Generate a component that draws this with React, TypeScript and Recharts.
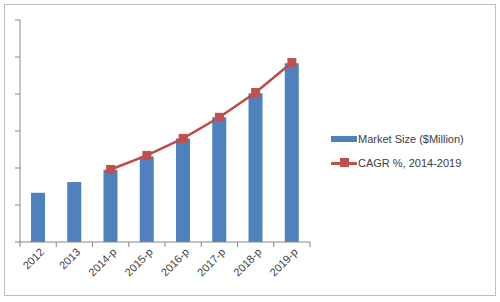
import { ComposedChart, Bar, Line, XAxis, YAxis } from 'recharts';

const years = ['2012', '2013', '2014-p', '2015-p', '2016-p', '2017-p', '2018-p', '2019-p'];
const marketSize = [13.3, 16.2, 19.5, 23.1, 28.0, 33.7, 40.2, 48.3];
const cagr = [null, null, 19.6, 23.4, 28.0, 33.7, 40.4, 48.5];
const yTicks = [0, 10, 20, 30, 40, 50, 60];

const data = years.map((year, i) => ({ year, size: marketSize[i], cagr: cagr[i] }));

const FONT = '"Liberation Sans", Arial, sans-serif';
const BLUE = '#4F81BD';
const RED = '#C0504D';
const AXIS = '#868686';

const SquareDot = (props: any) => {
  const { cx, cy, value } = props;
  if (value == null || cx == null || cy == null) return <g />;
  return <rect x={cx - 4.5} y={cy - 4.5} width={9} height={9} fill={RED} />;
};

// Excel-style tick marks sit between categories, so draw them from the tick itself
const YearTick = (props: any) => {
  const { x, y, payload, width, visibleTicksCount, index } = props;
  const half = width / visibleTicksCount / 2;
  return (
    <g>
      <line x1={x - half} x2={x - half} y1={y - 5} y2={y} stroke={AXIS} />
      {index === visibleTicksCount - 1 && (
        <line x1={x + half} x2={x + half} y1={y - 5} y2={y} stroke={AXIS} />
      )}
      <g transform={`translate(${x + 4},${y + 3}) rotate(-45)`}>
        <text textAnchor="end" dy="0.35em" fontSize={11} fontFamily={FONT} fill="#404040">
          {payload.value}
        </text>
      </g>
    </g>
  );
};

const LegendBox = () => (
  <div style={{ position: 'absolute', left: 331, top: 131, fontFamily: FONT, fontSize: 11, color: '#404040' }}>
    <div style={{ display: 'flex', alignItems: 'center', height: 16 }}>
      <span style={{ width: 26, height: 6, background: BLUE, marginRight: 1 }} />
      <span>Market Size ($Million)</span>
    </div>
    <div style={{ display: 'flex', alignItems: 'center', height: 16, marginTop: 8 }}>
      <span style={{ position: 'relative', width: 26, height: 10, marginRight: 1 }}>
        <span style={{ position: 'absolute', left: 0, top: 4, width: 26, height: 2.5, background: RED }} />
        <span style={{ position: 'absolute', left: 9, top: 0, width: 9, height: 9, background: RED }} />
      </span>
      <span>CAGR %, 2014-2019</span>
    </div>
  </div>
);

export default function App() {
  return (
    <div style={{ position: 'absolute', left: 0, top: 0, width: 500, height: 302, background: '#fff' }}>
      <div
        style={{
          position: 'absolute',
          left: 4,
          top: 4,
          width: 490,
          height: 290,
          border: '1px solid #BFBFBF',
        }}
      />
      <div style={{ position: 'absolute', left: 0, top: 0 }}>
        <ComposedChart
          width={500}
          height={302}
          data={data}
          margin={{ top: 20, right: 190, bottom: 0, left: 0 }}
        >
          <XAxis
            dataKey="year"
            height={60}
            axisLine={{ stroke: AXIS }}
            tickLine={false}
            tickSize={5}
            tickMargin={0}
            tick={<YearTick />}
            interval={0}
          />
          <YAxis
            domain={[0, 60]}
            ticks={yTicks}
            width={20}
            axisLine={{ stroke: AXIS }}
            tickLine={{ stroke: AXIS }}
            tickSize={5}
            tick={() => <g />}
          />
          <Bar dataKey="size" fill={BLUE} barSize={14} isAnimationActive={false} />
          <Line
            dataKey="cagr"
            stroke="#BE4B48"
            strokeWidth={2.5}
            dot={<SquareDot />}
            activeDot={false}
            isAnimationActive={false}
          />
        </ComposedChart>
      </div>
      <LegendBox />
    </div>
  );
}
